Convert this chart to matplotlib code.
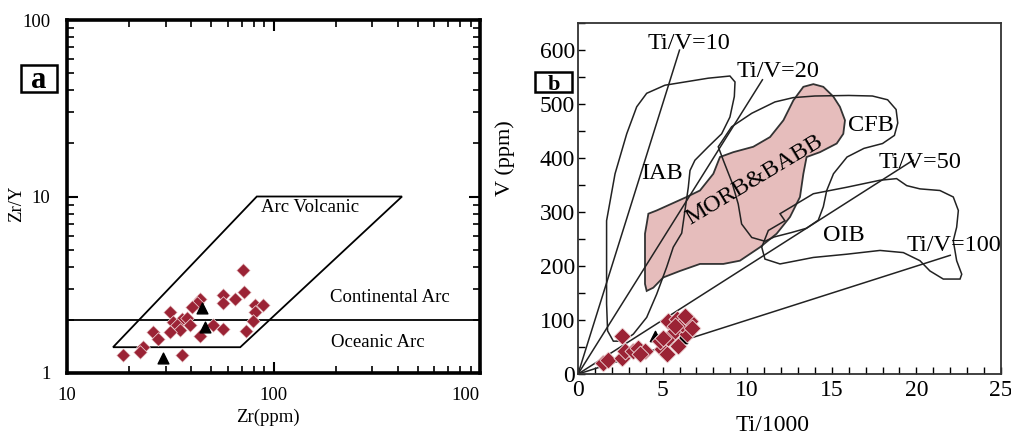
import matplotlib
matplotlib.use("Agg")
import matplotlib.pyplot as plt
from matplotlib.patches import Polygon, Rectangle
from matplotlib.ticker import MultipleLocator, LogLocator, NullFormatter
from matplotlib.transforms import ScaledTranslation
import numpy as np

plt.rcParams['font.family'] = ['Liberation Serif', 'DejaVu Serif']

# ---------------- Panel a data ----------------
a_zr = [71.4, 57.1, 71.9, 65.1, 57.1, 81.4, 89.3, 81.4, 79.8, 73.6, 44.1, 42.5, 40.2,
        31.5, 35.9, 38.0, 32.7, 34.0, 39.4, 35.3, 31.5, 51.1, 57.1, 44.1, 26.2, 27.7,
        23.4, 22.6, 18.7, 35.9]
a_zry = [3.83, 2.77, 2.87, 2.62, 2.48, 2.43, 2.43, 2.23, 1.98, 1.73, 2.62, 2.48, 2.37,
         2.21, 2.02, 2.04, 1.95, 1.87, 1.87, 1.75, 1.71, 1.87, 1.78, 1.61, 1.71, 1.55,
         1.41, 1.32, 1.26, 1.26]
a_tri_zr = [44.9, 46.6, 29.3]
a_tri_zry = [2.33, 1.83, 1.21]

arc_zr = [16.7, 69.0, 419.0, 83.0]
arc_zry = [1.40, 1.40, 10.0, 10.0]
cont_ocean_boundary = 2.0

# ---------------- Panel b data ----------------
b_ti = [2.58, 1.50, 1.79, 2.58, 2.78, 3.27, 3.56, 3.96, 3.66, 4.95, 5.24, 4.85, 5.34,
        5.73, 5.93, 6.42, 5.34, 5.83, 6.13, 6.62, 6.32, 5.73, 6.72, 5.04]
b_v = [70.6, 21, 27, 30, 43, 43, 49, 43, 37, 46, 37, 61, 67, 80, 52, 74, 98.5, 102, 92,
       98.5, 108, 89, 86, 67]
b_tri_ti = [4.55, 6.13]
b_tri_v = [70.6, 67]

tiv_ratios = [10, 20, 50, 100]
tiv_xend = [6.0, 10.9, 19.8, 22.0]

iab_x = [1.69, 2.19, 2.88, 3.47, 4.06, 5.14, 6.32, 7.70, 8.98, 9.28, 9.24, 8.98, 8.49,
         7.70, 6.91, 6.62, 6.52, 6.13, 5.63, 5.24, 4.65, 4.06, 3.27, 2.68, 2.09, 1.75, 1.69]
iab_y = [284, 371, 445, 495, 520, 535, 541, 548, 552, 541, 514, 476, 445, 421, 396, 377,
         346, 261, 235, 198, 148, 105, 74, 61, 61, 80, 130]

cfb_x = [8.29, 9.08, 10.27, 11.64, 12.72, 14.0, 16.0, 17.4, 18.3, 18.8, 18.9, 18.7, 18.0,
         16.9, 15.9, 15.1, 14.7, 14.5, 14.2, 13.5, 12.6, 11.6, 11.05, 10.27, 9.67, 9.47,
         9.1, 8.6]
cfb_y = [421, 458, 483, 504, 512, 515, 516, 515, 508, 490, 465, 442, 427, 418, 402, 371,
         340, 310, 285, 270, 262, 254, 246, 253, 278, 315, 355, 395]

oib_x = [11.94, 13.91, 15.88, 17.85, 18.83, 19.43, 20.21, 21.39, 22.18, 22.48, 22.38,
         22.18, 22.38, 22.68, 22.58, 21.59, 20.80, 20.21, 19.23, 17.85, 15.88, 13.91,
         12.93, 11.94, 11.05, 10.86, 11.25, 12.23]
oib_y = [297, 334, 346, 359, 362, 349, 343, 340, 328, 303, 272, 247, 210, 185, 176, 176,
         191, 210, 225, 229, 222, 216, 210, 204, 213, 235, 266, 284]

morb_x = [4.16, 4.65, 6.42, 7.21, 8.0, 8.39, 9.18, 10.36, 11.35, 12.14, 12.73, 13.32,
          13.91, 14.50, 15.09, 15.48, 15.78, 15.68, 15.29, 14.30, 13.51, 13.32, 13.12,
          12.53, 11.74, 10.76, 9.57, 8.59, 7.21, 6.03, 5.04, 4.45, 4.06, 3.96, 3.96, 4.06]
morb_y = [297, 303, 328, 340, 371, 402, 411, 421, 439, 470, 507, 532, 537, 532, 514, 495,
          470, 445, 427, 411, 402, 371, 328, 291, 260, 235, 210, 204, 204, 191, 179, 160,
          154, 167, 260, 278]

# ---------------- Figure ----------------
W, H = 1011, 436
fig = plt.figure(figsize=(W / 100, H / 100), dpi=100)
axa = fig.add_axes([0.0663, 0.1445, 0.4085, 0.8096])
axb = fig.add_axes([0.5717, 0.142, 0.4184, 0.805])

red = '#9B2335'


def panel_tag(x0, y0, x1, y1, base, letter, size):
    fig.add_artist(Rectangle((x0 / W, 1 - y1 / H), (x1 - x0) / W, (y1 - y0) / H,
                             transform=fig.transFigure, facecolor='white',
                             edgecolor='black', lw=1.8))
    fig.text((x0 + x1) / 2 / W, 1 - base / H, letter, fontsize=size,
             fontweight='bold', ha='center', va='baseline')


# Panel a
axa.set_xscale('log')
axa.set_yscale('log')
axa.set_xlim(10, 1000)
axa.set_ylim(1, 100)
axa.add_patch(Polygon(np.column_stack([arc_zr, arc_zry]), closed=True, fill=False,
                      edgecolor='black', lw=1.3))
axa.axhline(cont_ocean_boundary, color='black', lw=1.3)
axa.scatter(a_zr, a_zry, marker='D', s=48, color=red, edgecolors='#f2dede', linewidths=0.5, zorder=3)
axa.scatter(a_tri_zr, a_tri_zry, marker='^', s=60, color='black', zorder=4)
axa.text(150, 8.7, 'Arc Volcanic', fontsize=13.5, ha='center', va='center')
axa.text(366, 2.69, 'Continental Arc', fontsize=13.5, ha='center', va='center')
axa.text(321, 1.48, 'Oceanic Arc', fontsize=13.5, ha='center', va='center')
for s in axa.spines.values():
    s.set_linewidth(2.6)
axa.xaxis.set_minor_locator(LogLocator(base=10, subs=np.arange(2, 10), numticks=20))
axa.yaxis.set_minor_locator(LogLocator(base=10, subs=np.arange(2, 10), numticks=20))
axa.xaxis.set_minor_formatter(NullFormatter())
axa.yaxis.set_minor_formatter(NullFormatter())
axa.set_xticks([10, 100, 1000])
axa.set_xticklabels(['10', '100', '100'])
axa.set_yticks([1, 10, 100])
axa.set_yticklabels(['1', '10', '100'])
axa.tick_params(which='both', direction='in', top=True, right=True, labelsize=13.5)
axa.tick_params(axis='y', which='both', pad=12)
axa.tick_params(axis='x', which='both', pad=10)
axa.tick_params(which='major', length=8, width=1.5)
axa.tick_params(which='minor', length=5, width=1.2)
axa.get_xticklabels()[2].set_horizontalalignment('right')
axa.set_xlabel('Zr(ppm)', fontsize=13.5)
axa.xaxis.set_label_coords(0.487, -0.102)
axa.set_ylabel('Zr/Y', fontsize=13.5)
axa.yaxis.set_label_coords(-0.102, 0.48)
panel_tag(21, 65, 57, 92, 88, 'a', 22)

# Panel b
axb.set_xlim(0, 25)
axb.set_ylim(0, 650)
for r, xe in zip(tiv_ratios, tiv_xend):
    xs = np.array([0, xe])
    axb.plot(xs, xs * 1000 / r, color='#222222', lw=1.1, zorder=2)
axb.add_patch(Polygon(np.column_stack([morb_x, morb_y]), closed=True, facecolor='#E6BDBC',
                      edgecolor='#333333', lw=1.3, zorder=1))
axb.add_patch(Polygon(np.column_stack([iab_x, iab_y]), closed=True, fill=False,
                      edgecolor='#222222', lw=1.1, zorder=2))
axb.add_patch(Polygon(np.column_stack([cfb_x, cfb_y]), closed=True, fill=False,
                      edgecolor='#222222', lw=1.1, zorder=2))
axb.add_patch(Polygon(np.column_stack([oib_x, oib_y]), closed=True, fill=False,
                      edgecolor='#222222', lw=1.1, zorder=2))
axb.scatter(b_tri_ti, b_tri_v, marker='^', s=55, color='black', zorder=3)
axb.scatter(b_ti, b_v, marker='D', s=75, color=red, edgecolors='#f2dede', linewidths=0.6, zorder=4)

fs = 17.5
axb.text(6.56, 613, 'Ti/V=10', fontsize=fs, ha='center', va='center')
axb.text(11.8, 560, 'Ti/V=20', fontsize=fs, ha='center', va='center')
axb.text(20.2, 392, 'Ti/V=50', fontsize=fs, ha='center', va='center')
axb.text(22.2, 238, 'Ti/V=100', fontsize=fs, ha='center', va='center')
axb.text(4.99, 372, 'IAB', fontsize=fs, ha='center', va='center')
axb.text(17.3, 461, 'CFB', fontsize=fs, ha='center', va='center')
axb.text(15.7, 256, 'OIB', fontsize=fs, ha='center', va='center')
axb.text(10.45, 359, 'MORB&BABB', fontsize=fs, ha='center', va='center', rotation=31)

axb.xaxis.set_major_locator(MultipleLocator(5))
axb.xaxis.set_minor_locator(MultipleLocator(1))
axb.yaxis.set_major_locator(MultipleLocator(100))
axb.yaxis.set_minor_locator(MultipleLocator(50))
axb.tick_params(which='both', direction='in', labelsize=17)
axb.tick_params(axis='y', which='both', pad=2)
axb.tick_params(axis='x', which='both', pad=4)
axb.tick_params(which='major', length=5, width=1)
axb.tick_params(which='minor', length=5, width=1)
for s in axb.spines.values():
    s.set_linewidth(1.3)
    s.set_color('#333333')
axb.set_xlabel('Ti/1000', fontsize=17)
axb.xaxis.set_label_coords(0.461, -0.117)
axb.set_ylabel('V (ppm)', fontsize=16)
axb.yaxis.set_label_coords(-0.149, 0.615)
panel_tag(535, 72, 572, 92, 90, 'b', 16)

# nudge the x "0" label right so it clears the y "0" label, as in the reference
fig.canvas.draw()
lbl0 = axb.get_xticklabels()[0]
lbl0.set_transform(lbl0.get_transform() + ScaledTranslation(5 / 100, 0, fig.dpi_scale_trans))

fig.savefig('out.png', dpi=100)
